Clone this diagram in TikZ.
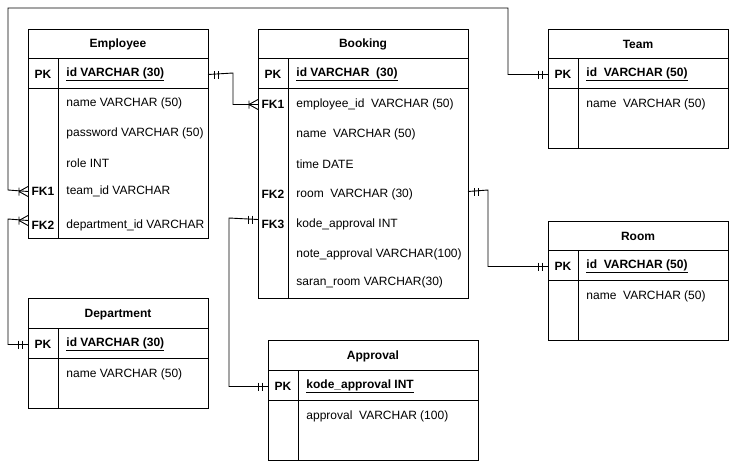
\documentclass[tikz,border=0pt]{standalone}
\usepackage{fontspec}
\setmainfont{Liberation Sans}
\newcommand{\erone}[2]{\draw[shift={(#1)},rotate=#2] (-6,-4) -- (-6,4) (-10,-4) -- (-10,4);}
\newcommand{\ermany}[2]{\draw[shift={(#1)},rotate=#2] (-9,-4) -- (-9,4) (-9,0) -- (0,-5) (-9,0) -- (0,5);}
\begin{document}
\begin{tikzpicture}[x=1pt,y=-1pt,line width=0.9pt,
	every node/.style={font=\fontsize{12}{14}\selectfont,inner sep=0pt,yshift=-1.5pt},
	title/.style={font=\fontsize{12}{14}\selectfont\bfseries},
	key/.style={font=\fontsize{12}{14}\selectfont\bfseries},
	field/.style={anchor=west},
	pkfield/.style={anchor=west,font=\fontsize{12}{14}\selectfont\bfseries}]
	\useasboundingbox (0,0) rectangle (729,461);
	% tables
	\draw (28,29) rectangle (208,238) (28,58) -- (208,58) (28,88) -- (208,88) (58,58) -- (58,238);
	\draw (258,29) rectangle (468,298) (258,58) -- (468,58) (258,88) -- (468,88) (288,58) -- (288,298);
	\draw (548,29) rectangle (728,148) (548,58) -- (728,58) (548,88) -- (728,88) (578,58) -- (578,148);
	\draw (548,221) rectangle (728,340) (548,250) -- (728,250) (548,280) -- (728,280) (578,250) -- (578,340);
	\draw (28,298) rectangle (208,408) (28,328) -- (208,328) (28,358) -- (208,358) (58,328) -- (58,408);
	\draw (268,340) rectangle (478,460) (268,370) -- (478,370) (268,400) -- (478,400) (298,370) -- (298,460);
	% Employee
	\node[title] (emp) at (118,43) {Employee};
	\node[key] (emp-pkl) at (43,73) {PK};
	\node[pkfield] (emp-id) at (66,73) {\underline{id VARCHAR (30)}};
	\node[field] (emp-name) at (66,102) {name VARCHAR (50)};
	\node[field] (emp-pass) at (66,132) {password VARCHAR (50)};
	\node[field] (emp-role) at (66,162) {role INT};
	\node[key] (emp-fk1l) at (43,190) {FK1};
	\node[field] (emp-team) at (66,190) {team\_id VARCHAR};
	\node[key] (emp-fk2l) at (43,224) {FK2};
	\node[field] (emp-dept) at (66,224) {department\_id VARCHAR};
	% Booking
	\node[title] (book) at (363,43) {Booking};
	\node[key] (book-pkl) at (273,73) {PK};
	\node[pkfield] (book-id) at (296,73) {\underline{id VARCHAR\ \ (30)}};
	\node[key] (book-fk1l) at (273,103) {FK1};
	\node[field] (book-emp) at (296,103) {employee\_id\ \ VARCHAR (50)};
	\node[field] (book-name) at (296,133) {name\ \ VARCHAR (50)};
	\node[field] (book-time) at (296,163) {time DATE};
	\node[key] (book-fk2l) at (273,193) {FK2};
	\node[field] (book-room) at (296,193) {room\ \ VARCHAR (30)};
	\node[key] (book-fk3l) at (273,223) {FK3};
	\node[field] (book-kode) at (296,223) {kode\_approval INT};
	\node[field] (book-note) at (296,253) {note\_approval VARCHAR(100)};
	\node[field] (book-saran) at (296,281) {saran\_room VARCHAR(30)};
	% Team
	\node[title] (team) at (638,43) {Team};
	\node[key] (team-pkl) at (563,73) {PK};
	\node[pkfield] (team-id) at (586,73) {\underline{id\ \ VARCHAR (50)}};
	\node[field] (team-name) at (586,103) {name\ \ VARCHAR (50)};
	% Room
	\node[title] (room) at (638,235) {Room};
	\node[key] (room-pkl) at (563,265) {PK};
	\node[pkfield] (room-id) at (586,265) {\underline{id\ \ VARCHAR (50)}};
	\node[field] (room-name) at (586,295) {name\ \ VARCHAR (50)};
	% Department
	\node[title] (dept) at (118,313) {Department};
	\node[key] (dept-pkl) at (43,343) {PK};
	\node[pkfield] (dept-id) at (66,343) {\underline{id VARCHAR (30)}};
	\node[field] (dept-name) at (66,373) {name VARCHAR (50)};
	% Approval
	\node[title] (appr) at (373,355) {Approval};
	\node[key] (appr-pkl) at (283,385) {PK};
	\node[pkfield] (appr-id) at (306,385) {\underline{kode\_approval INT}};
	\node[field] (appr-val) at (306,415) {approval\ \ VARCHAR (100)};
	% connector ends
	\coordinate (E-pk) at (208,73);
	\coordinate (E-fk1) at (28,190);
	\coordinate (E-fk2) at (28,219);
	\coordinate (B-fk1) at (258,103);
	\coordinate (B-fk2) at (468,190);
	\coordinate (B-fk3) at (258,218);
	\coordinate (T-pk) at (548,73);
	\coordinate (R-pk) at (548,265);
	\coordinate (D-pk) at (28,343);
	\coordinate (A-pk) at (268,385);
	% relations
	\draw (E-pk) -- (233,73) |- (B-fk1);
	\draw (E-fk1) -- (8,190) -- (8,8) -- (508,8) |- (T-pk);
	\draw (E-fk2) -- (8,219) |- (D-pk);
	\draw (B-fk3) -- (229,218) |- (A-pk);
	\draw (B-fk2) -- (488,190) |- (R-pk);
	\erone{E-pk}{180}
	\ermany{B-fk1}{0}
	\ermany{E-fk1}{0}
	\erone{T-pk}{0}
	\ermany{E-fk2}{0}
	\erone{D-pk}{0}
	\erone{B-fk3}{0}
	\erone{A-pk}{0}
	\erone{B-fk2}{180}
	\erone{R-pk}{0}
\end{tikzpicture}
\end{document}
